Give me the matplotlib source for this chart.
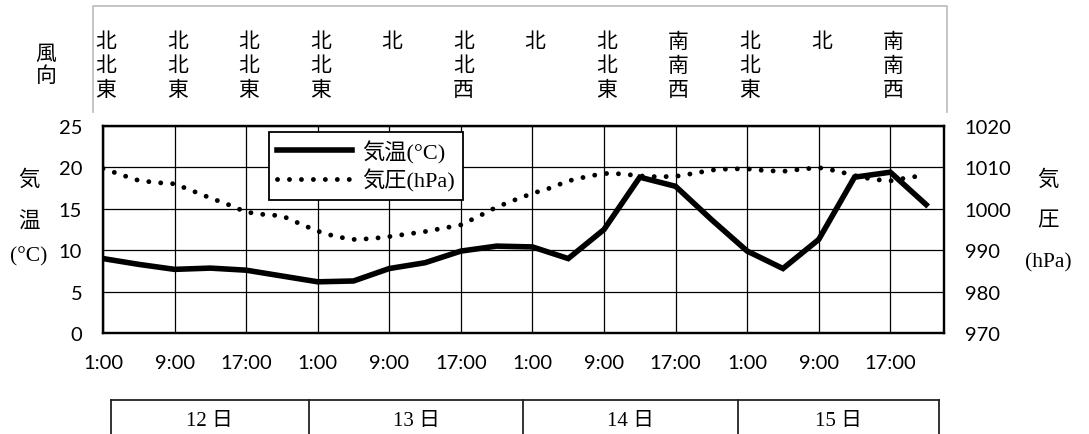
import matplotlib
matplotlib.use('Agg')
import matplotlib.pyplot as plt
import matplotlib.transforms as mtransforms
from matplotlib.lines import Line2D

# 12日1:00 からの経過時間 [h]
t_temp = [0, 4, 8, 12, 16, 20, 24, 28, 32, 36, 40, 44,
          48, 52, 56, 60, 64, 68, 72, 76, 80, 84, 88, 92]
temp = [9.0, 8.3, 7.7, 7.85, 7.6, 6.9, 6.2, 6.3, 7.8, 8.5, 9.9, 10.5,
        10.4, 9.0, 12.5, 18.8, 17.7, 13.7, 9.9, 7.8, 11.3, 18.8, 19.4, 15.5]

t_pres = [0, 2, 4, 6, 8, 10, 12, 14, 16, 18, 20, 22,
          24, 26, 28, 30, 32, 34, 36, 38, 40, 42, 44, 46,
          48, 50, 52, 54, 56, 58, 60, 62, 64, 66, 68, 70,
          72, 74, 76, 78, 80, 82, 84, 86, 88, 90, 92]
pres = [1009.7, 1008.2, 1006.8, 1006.3, 1006.0, 1004.3, 1002.6, 1001.0, 999.2, 998.6, 998.3, 996.4,
        994.6, 993.3, 992.6, 992.8, 993.3, 993.9, 994.5, 995.3, 996.1, 998.2, 1000.4, 1002.1,
        1003.7, 1005.0, 1006.7, 1007.7, 1008.5, 1008.4, 1007.9, 1007.7, 1007.8, 1008.5, 1009.3, 1009.6,
        1009.6, 1009.2, 1009.0, 1009.5, 1009.9, 1009.1, 1008.0, 1007.1, 1006.7, 1007.5, 1008.1]

tick_hours = [0, 8, 16, 24, 32, 40, 48, 56, 64, 72, 80, 88]
tick_labels = ['1:00', '9:00', '17:00'] * 4

wind_hours = [0, 8, 16, 24, 32, 40, 48, 56, 64, 72, 80, 88]
wind = ['北北東', '北北東', '北北東', '北北東', '北', '北北西',
        '北', '北北東', '南南西', '北北東', '北', '南南西']

day_edges = [0.9, 23, 47, 71, 93.4]
days = ['12 日', '13 日', '14 日', '15 日']

plt.rcParams['font.family'] = ['Lato', 'DejaVu Sans']
cjk = ['Noto Sans CJK JP', 'DejaVu Sans']
serif = ['Liberation Serif', 'Noto Sans CJK JP']
dots = (0, (0.01, 2.45))

fig = plt.figure(figsize=(10.89, 4.35), dpi=100)
ax = fig.add_axes([103/1089, 1-334.3/435, (944-103)/1089, (334.3-126.7)/435])
ax2 = ax.twinx()
ax.set_zorder(ax2.get_zorder() + 1)
ax.patch.set_visible(False)

ax2.plot(t_pres, pres, color='black', lw=3.5, linestyle=dots, dash_capstyle='round')
ax.plot(t_temp, temp, color='black', lw=4, solid_joinstyle='miter')

ax.set_xlim(0, 94)
ax.set_ylim(0, 25)
ax2.set_ylim(970, 1020)
ax.set_yticks([0, 5, 10, 15, 20, 25])
ax2.set_yticks([970, 980, 990, 1000, 1010, 1020])
ax.set_xticks(tick_hours)
ax.set_xticklabels(tick_labels)
ax.grid(True, color='black', lw=0.9)
for a in (ax, ax2):
    for s in a.spines.values():
        s.set_linewidth(1.6)
ax.tick_params(axis='both', length=0, pad=15, labelsize=14.5)
ax2.tick_params(axis='y', length=0, pad=15, labelsize=14.5)

# 凡例
handles = [Line2D([], [], color='black', lw=4),
           Line2D([], [], color='black', lw=3.5, linestyle=dots, dash_capstyle='round')]
leg = ax.legend(handles, ['気温(°C)', '気圧(hPa)'], loc='upper left',
                bbox_to_anchor=(269/1089, 1-133/435), bbox_transform=fig.transFigure,
                prop={'family': serif, 'size': 16}, frameon=True, fancybox=False,
                edgecolor='black', framealpha=1, handlelength=3.4, handletextpad=0.45,
                labelspacing=0.25, borderpad=0.35, borderaxespad=0)
leg.get_frame().set_linewidth(1.3)

# 軸ラベル
for ch, y in [('気', 181), ('温', 223), ('(°C)', 257)]:
    fig.text(29/1089, 1-y/435, ch, ha='center', va='center', fontsize=15.5, family=serif)
for ch, y in [('気', 181), ('圧', 222), ('(hPa)', 263)]:
    fig.text(1048/1089, 1-y/435, ch, ha='center', va='center', fontsize=15.5, family=serif)

# 風向
fig.text(46/1089, 1-65/435, '風\n向', ha='center', va='center', fontsize=15,
         family=cjk, linespacing=1.0)
blend = mtransforms.blended_transform_factory(ax.transData, fig.transFigure)
for h, w in zip(wind_hours, wind):
    ax.text(h + 0.3, 1-31/435, '\n'.join(w), transform=blend, ha='center', va='top',
            fontsize=15, family=cjk, linespacing=1.12, clip_on=False)
box = [(93, 113), (93, 7), (947, 7), (947, 113)]
fig.add_artist(Line2D([p[0]/1089 for p in box], [1-p[1]/435 for p in box],
                      color='#bfbfbf', lw=1.3, transform=fig.transFigure))

# 日付
ax.plot([day_edges[0], day_edges[-1]], [1-401/435]*2, color='#222222', lw=1.3,
        transform=blend, clip_on=False)
for e in day_edges:
    ax.plot([e, e], [1-401/435, 0], color='#222222', lw=1.3, transform=blend, clip_on=False)
for i, d in enumerate(days):
    ax.text((day_edges[i] + day_edges[i+1]) / 2, 1-422/435, d, transform=blend,
            ha='center', va='center', fontsize=15, family=serif, clip_on=False)

fig.savefig('out.png', dpi=100)
